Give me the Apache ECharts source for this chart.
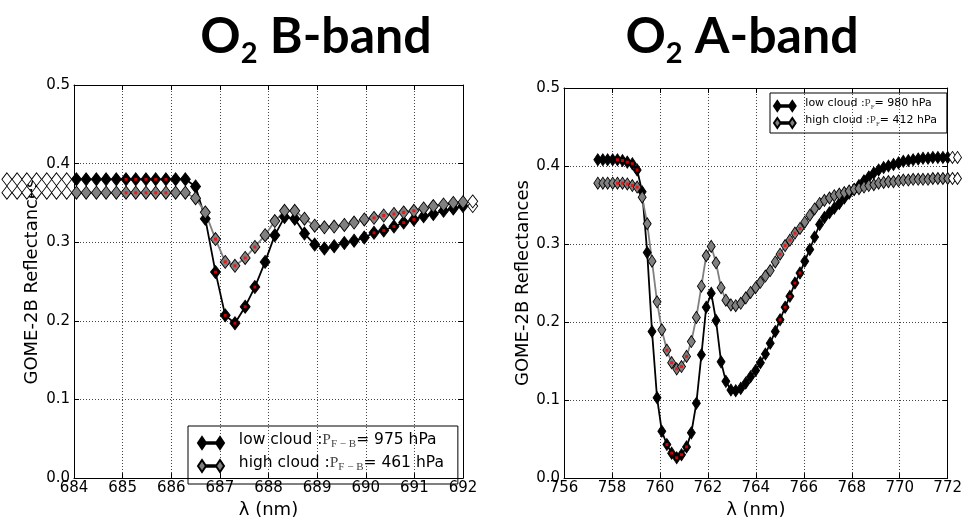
<!DOCTYPE html>
<html><head><meta charset="utf-8">
<script src="https://cdn.jsdelivr.net/npm/echarts@6/dist/echarts.min.js"></script>
<style>html,body{margin:0;padding:0;background:#fff}#c{width:965px;height:524px}</style>
</head><body><div id="c"></div>
<script>
// ---------- O2 B-band (left panel) ----------
const lambdaB = [682.62, 682.83, 683.03, 683.23, 683.44, 683.64, 683.85,
  684.05, 684.25, 684.46, 684.66, 684.87, 685.07, 685.27, 685.48, 685.68, 685.89,
  686.09, 686.29, 686.50, 686.70, 686.91, 687.11, 687.31, 687.52, 687.72, 687.93,
  688.13, 688.33, 688.54, 688.74, 688.95, 689.15, 689.35, 689.56, 689.76, 689.97,
  690.17, 690.37, 690.58, 690.78, 690.99, 691.19, 691.39, 691.60, 691.80, 692.00,
  692.20];
const lowB = [0.380, 0.380, 0.380, 0.380, 0.380, 0.380, 0.380,
  0.380, 0.380, 0.380, 0.380, 0.380, 0.380, 0.380, 0.380, 0.380, 0.380,
  0.380, 0.380, 0.371, 0.330, 0.262, 0.207, 0.197, 0.218, 0.243, 0.275,
  0.309, 0.332, 0.330, 0.311, 0.297, 0.292, 0.295, 0.299, 0.302, 0.306,
  0.312, 0.315, 0.320, 0.325, 0.329, 0.333, 0.336, 0.340, 0.343, 0.346,
  0.346];
const highB = [0.363, 0.363, 0.363, 0.363, 0.363, 0.363, 0.363,
  0.363, 0.363, 0.363, 0.363, 0.363, 0.363, 0.363, 0.363, 0.363, 0.363,
  0.363, 0.363, 0.356, 0.338, 0.304, 0.275, 0.270, 0.280, 0.294, 0.309,
  0.327, 0.340, 0.340, 0.330, 0.321, 0.319, 0.320, 0.322, 0.325, 0.329,
  0.331, 0.334, 0.336, 0.338, 0.340, 0.343, 0.346, 0.348, 0.350, 0.351,
  0.352];
const markedB = [12, 13, 14, 15, 16, 21, 22, 23, 24, 25, 37, 38, 39, 40, 41];
const ticksBx = [684, 692, 1];

// ---------- O2 A-band (right panel) ----------
const lambdaA = [757.41, 757.62, 757.82, 758.03, 758.23, 758.44, 758.64, 758.85, 759.05, 759.26,
  759.47, 759.67, 759.88, 760.08, 760.29, 760.49, 760.70, 760.90, 761.11, 761.31,
  761.52, 761.73, 761.93, 762.14, 762.34, 762.55, 762.75, 762.96, 763.16, 763.37,
  763.58, 763.78, 763.99, 764.19, 764.40, 764.60, 764.81, 765.01, 765.22, 765.42,
  765.63, 765.84, 766.04, 766.25, 766.45, 766.66, 766.86, 767.07, 767.27, 767.48,
  767.69, 767.89, 768.10, 768.30, 768.51, 768.71, 768.92, 769.12, 769.33, 769.53,
  769.74, 769.95, 770.15, 770.36, 770.56, 770.77, 770.97, 771.18, 771.38, 771.59,
  771.80, 772.00, 772.20, 772.41];
const lowA = [0.408, 0.408, 0.408, 0.408, 0.408, 0.407, 0.405, 0.403, 0.395, 0.367,
  0.289, 0.188, 0.103, 0.060, 0.043, 0.032, 0.026, 0.030, 0.040, 0.058,
  0.096, 0.158, 0.219, 0.237, 0.202, 0.149, 0.124, 0.113, 0.112, 0.115,
  0.122, 0.130, 0.138, 0.148, 0.159, 0.173, 0.188, 0.203, 0.219, 0.233,
  0.250, 0.263, 0.278, 0.293, 0.309, 0.325, 0.334, 0.340, 0.346, 0.352,
  0.359, 0.365, 0.370, 0.375, 0.381, 0.386, 0.391, 0.395, 0.398, 0.400,
  0.402, 0.404, 0.406, 0.407, 0.408, 0.409, 0.410, 0.410, 0.411, 0.411,
  0.411, 0.411, 0.411, 0.411];
const highA = [0.378, 0.378, 0.378, 0.378, 0.378, 0.378, 0.377, 0.375, 0.373, 0.360,
  0.326, 0.278, 0.226, 0.190, 0.164, 0.148, 0.140, 0.143, 0.156, 0.175,
  0.206, 0.246, 0.285, 0.297, 0.276, 0.244, 0.228, 0.222, 0.221, 0.224,
  0.231, 0.238, 0.244, 0.251, 0.259, 0.266, 0.277, 0.287, 0.298, 0.305,
  0.314, 0.320, 0.328, 0.337, 0.345, 0.352, 0.356, 0.359, 0.362, 0.364,
  0.366, 0.368, 0.370, 0.371, 0.373, 0.375, 0.376, 0.378, 0.379, 0.380,
  0.380, 0.381, 0.382, 0.382, 0.383, 0.383, 0.383, 0.383, 0.384, 0.384,
  0.384, 0.384, 0.384, 0.384];
const markedA = [4, 5, 6, 7, 8, 14, 15, 16, 17, 18, 37, 38, 39, 40, 41];
const ticksAx = [756, 772, 2];
const ticksY = [0, 0.5, 0.1];

const legendB = {
  lowB: '{n|  low cloud :}{p|P}{s|F − B}{n|= 975 hPa}',
  highB: '{n|  high cloud :}{p|P}{s|F − B}{n|= 461 hPa}'
};
const legendA = {
  lowA: '{n| low cloud :}{p|P}{s|F}{n|= 980 hPa}',
  highA: '{n| high cloud :}{p|P}{s|F}{n|= 412 hPa}'
};

const FONT = 'DejaVu Sans';
const ICON = 'path://M4,1 L8,7 L4,13 L0,7 Z M22,1 L26,7 L22,13 L18,7 Z M8,6.2 L18,6.2 L18,7.8 L8,7.8 Z';

function curveData(xs, ys, xr) {
  return xs.map((x, i) => {
    const out = x < xr[0] - 1e-9 || x > xr[1] + 1e-9;
    return out ? { value: [x, ys[i]], itemStyle: { color: '#fff', borderColor: '#000' } } : [x, ys[i]];
  });
}
function marks(xs, ys, idx) { return idx.map(i => [xs[i], ys[i]]); }

function lineSeries(name, xi, xs, ys, xr, fill, lineColor, size) {
  return {
    type: 'line', name, xAxisIndex: xi, yAxisIndex: xi,
    data: curveData(xs, ys, xr), clip: false, showAllSymbol: true,
    symbol: 'diamond', symbolSize: size, animation: false,
    lineStyle: { color: lineColor, width: 1.8 },
    itemStyle: { color: fill, borderColor: '#000', borderWidth: 0.9 },
    emphasis: { disabled: true }, silent: true
  };
}
function markSeries(xi, pts) {
  return {
    type: 'scatter', xAxisIndex: xi, yAxisIndex: xi, data: pts, symbol: 'rect',
    symbolSize: 3, itemStyle: { color: '#ff0000' }, z: 5, silent: true, animation: false
  };
}
function xAx(gi, t, pos) {
  const main = pos === 'bottom';
  return {
    type: 'value', gridIndex: gi, position: pos, min: t[0], max: t[1], interval: t[2],
    axisLine: { show: true, onZero: false, lineStyle: { color: '#000', width: 1 } },
    axisTick: { show: true, inside: true, length: 5, lineStyle: { color: '#000' } },
    axisLabel: { show: main, fontSize: 15, color: '#000', fontFamily: FONT, margin: 3 },
    splitLine: { show: main, lineStyle: { type: [1, 2], color: '#444', width: 1 } },
    name: main ? 'λ (nm)' : '', nameLocation: 'middle', nameGap: 18,
    nameTextStyle: { fontSize: 18, color: '#000', fontFamily: FONT }
  };
}
function yAx(gi, pos, gap) {
  const main = pos === 'left';
  return {
    type: 'value', gridIndex: gi, position: pos, min: ticksY[0], max: ticksY[1], interval: ticksY[2],
    axisLine: { show: true, onZero: false, lineStyle: { color: '#000', width: 1 } },
    axisTick: { show: true, inside: true, length: 5, lineStyle: { color: '#000' } },
    axisLabel: { show: main, fontSize: 15, color: '#000', fontFamily: FONT, margin: 4,
      formatter: v => v.toFixed(1) },
    splitLine: { show: main, lineStyle: { type: [1, 2], color: '#444', width: 1 } },
    name: main ? 'GOME-2B Reflectances' : '', nameLocation: 'middle', nameGap: gap,
    nameTextStyle: { fontSize: 18, color: '#000', fontFamily: FONT }
  };
}
function titleOpt(txt, cx) {
  return {
    text: '{a|O}{b|2}{a| ' + txt + '}', left: cx, top: 7, textAlign: 'center',
    textStyle: { rich: {
      a: { fontSize: 50, fontWeight: 'bold', fontFamily: 'Lato', color: '#000', verticalAlign: 'bottom', padding: [0, 0, 6, 0] },
      b: { fontSize: 29, fontWeight: 'bold', fontFamily: 'Lato', color: '#000', verticalAlign: 'bottom' }
    } }
  };
}
function legendOpt(names, labels, pos, fs, iw, ih, gap, pad) {
  return {
    data: names, orient: 'vertical', left: pos[0], top: pos[1], selectedMode: false,
    borderColor: '#000', borderWidth: 1, padding: pad, itemWidth: iw, itemHeight: ih, itemGap: gap,
    icon: ICON, formatter: n => labels[n],
    textStyle: { color: '#000', rich: {
      n: { fontSize: fs, fontFamily: FONT, color: '#000', lineHeight: ih, verticalAlign: 'bottom', padding: [0, 0, 2, 0] },
      p: { fontSize: fs, fontFamily: 'Liberation Serif', color: '#444', lineHeight: ih, verticalAlign: 'bottom', padding: [0, 0, 2, 0] },
      s: { fontSize: Math.round(fs * 0.68), fontFamily: 'Liberation Serif', color: '#444', lineHeight: ih, verticalAlign: 'bottom' }
    } }
  };
}

const chart = echarts.init(document.getElementById('c'), null, { renderer: 'canvas' });
chart.setOption({
  backgroundColor: '#fff',
  animation: false,
  title: [titleOpt('B-band', 311), titleOpt('A-band', 737)],
  grid: [
    { left: 74, top: 85, width: 389, height: 400 },
    { left: 564, top: 88, width: 389, height: 400 }
  ],
  xAxis: [xAx(0, ticksBx, 'bottom'), xAx(1, ticksAx, 'bottom'), xAx(0, ticksBx, 'top'), xAx(1, ticksAx, 'top')],
  yAxis: [yAx(0, 'left', 33), yAx(1, 'left', 24), yAx(0, 'right', 0), yAx(1, 'right', 0)],
  legend: [
    legendOpt(['lowB', 'highB'], legendB, [188, 426], 15.5, 26, 14, 5, [6, 14, 11, 9]),
    legendOpt(['lowA', 'highA'], legendA, [770, 93], 11, 24, 10, 3, [5, 10, 4, 3])
  ],
  series: [
    lineSeries('lowB', 0, lambdaB, lowB, [ticksBx[0], ticksBx[1]], '#000', '#000', [10, 13]),
    lineSeries('highB', 0, lambdaB, highB, [ticksBx[0], ticksBx[1]], '#808080', '#808080', [10, 13]),
    markSeries(0, marks(lambdaB, lowB, markedB)),
    markSeries(0, marks(lambdaB, highB, markedB)),
    lineSeries('lowA', 1, lambdaA, lowA, [ticksAx[0], ticksAx[1]], '#000', '#000', [8, 12]),
    lineSeries('highA', 1, lambdaA, highA, [ticksAx[0], ticksAx[1]], '#808080', '#808080', [8, 12]),
    markSeries(1, marks(lambdaA, lowA, markedA)),
    markSeries(1, marks(lambdaA, highA, markedA))
  ]
});
</script></body></html>
